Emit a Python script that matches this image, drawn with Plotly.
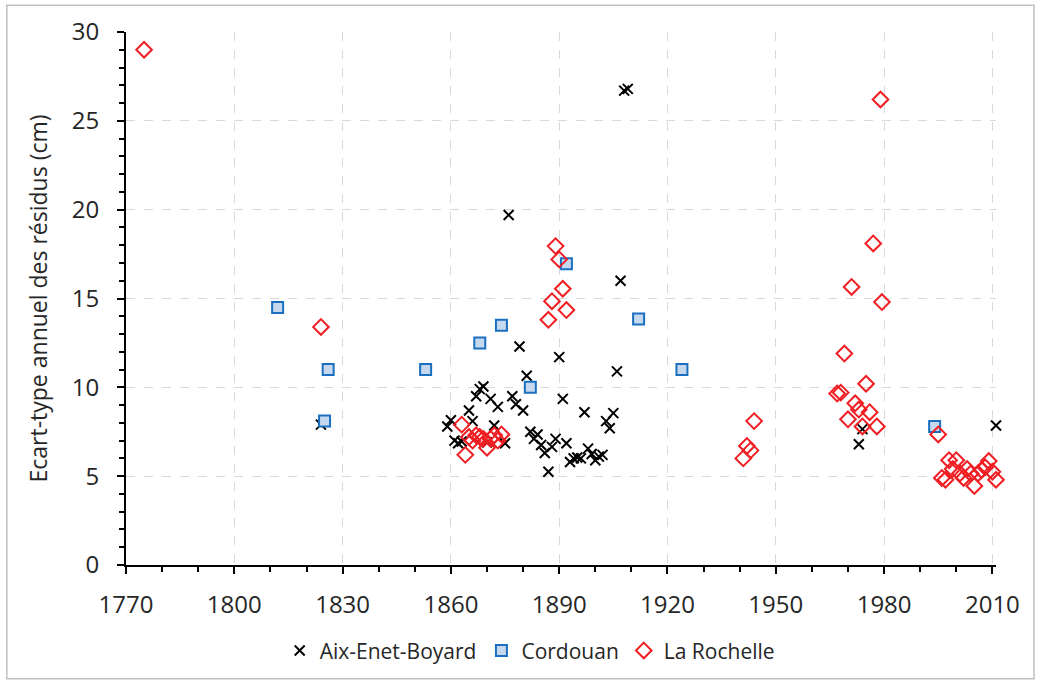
import plotly.graph_objects as go

# ---- data ----
aix_years = [1824, 1859, 1860, 1861, 1862, 1863, 1865, 1866, 1867, 1868, 1869, 1870,
             1871, 1872, 1873, 1875, 1876, 1877, 1878, 1879, 1880, 1881, 1882, 1883,
             1884, 1885, 1886, 1887, 1888, 1889, 1890, 1891, 1892, 1893, 1894, 1895,
             1896, 1897, 1898, 1899, 1900, 1901, 1902, 1903, 1904, 1905, 1906, 1907,
             1908, 1909, 1973, 1974, 2011]
aix_values = [7.9, 7.8, 8.15, 7.0, 6.85, 6.95, 8.7, 8.1, 9.5, 9.9, 10.05, 6.9,
              9.35, 7.85, 8.9, 6.85, 19.7, 9.5, 9.05, 12.3, 8.7, 10.65, 7.5, 7.1,
              7.35, 6.75, 6.3, 5.25, 6.65, 7.1, 11.7, 9.35, 6.85, 5.8, 6.0, 6.05,
              6.0, 8.6, 6.55, 6.25, 5.9, 6.1, 6.2, 8.1, 7.7, 8.55, 10.9, 16.0,
              26.7, 26.8, 6.8, 7.65, 7.85]

cord_years = [1812, 1825, 1826, 1853, 1868, 1874, 1882, 1892, 1912, 1924, 1994]
cord_values = [14.5, 8.1, 11.0, 11.0, 12.5, 13.5, 10.0, 16.95, 13.85, 11.0, 7.8]

lr_years = [1775, 1824, 1863, 1864, 1865, 1866, 1867, 1868, 1869, 1870, 1871, 1872,
            1873, 1874, 1887, 1888, 1889, 1890, 1891, 1892, 1941, 1942, 1943, 1944,
            1967, 1968, 1969, 1970, 1971, 1972, 1973, 1974, 1975, 1976, 1977, 1978,
            1979, 1979.4, 1995, 1996, 1997, 1998, 1999, 2000, 2001, 2002, 2003, 2004,
            2005, 2006, 2007, 2008, 2009, 2010, 2011]
lr_values = [29.0, 13.4, 7.9, 6.2, 7.2, 7.0, 7.3, 7.2, 7.1, 6.6, 7.1, 7.3,
             7.0, 7.35, 13.8, 14.85, 17.95, 17.2, 15.55, 14.35, 6.0, 6.7, 6.45, 8.1,
             9.65, 9.7, 11.9, 8.2, 15.65, 9.1, 8.75, 7.8, 10.2, 8.6, 18.1, 7.8,
             26.2, 14.8, 7.35, 4.9, 4.8, 5.9, 5.4, 5.9, 5.15, 4.9, 5.4, 5.15,
             4.45, 5.15, 5.35, 5.5, 5.85, 5.25, 4.8]

x_ticks = [1770, 1800, 1830, 1860, 1890, 1920, 1950, 1980, 2010]
y_ticks = [0, 5, 10, 15, 20, 25, 30]

FONT = "Open Sans"
TXT = "#262626"

fig = go.Figure()
fig.add_trace(go.Scatter(
    x=aix_years, y=aix_values, mode="markers", name="Aix-Enet-Boyard",
    marker=dict(symbol="x-thin-open", size=10, color="black",
                line=dict(color="black", width=2)),
    cliponaxis=False))
fig.add_trace(go.Scatter(
    x=cord_years, y=cord_values, mode="markers", name="Cordouan",
    marker=dict(symbol="square", size=11, color="#c6d8ee",
                line=dict(color="#1a6fc0", width=2)),
    cliponaxis=False))
fig.add_trace(go.Scatter(
    x=lr_years, y=lr_values, mode="markers", name="La Rochelle",
    marker=dict(symbol="diamond-open", size=12, color="#f01e23",
                line=dict(color="#f01e23", width=2)),
    cliponaxis=False))

fig.update_layout(
    width=1039, height=684,
    margin=dict(l=126, r=43, t=32, b=119, autoexpand=False),
    paper_bgcolor="white", plot_bgcolor="white",
    font=dict(family=FONT, color=TXT),
    showlegend=True,
    legend=dict(orientation="h", x=0.464, xanchor="center", y=-0.161,
                yanchor="middle", font=dict(size=21, family=FONT, color=TXT),
                itemwidth=30, bgcolor="rgba(0,0,0,0)"),
    xaxis=dict(range=[1770, 2011], tickmode="array", tickvals=x_ticks,
               ticktext=[str(v) for v in x_ticks],
               showline=True, linecolor="black", linewidth=2,
               ticks="outside", ticklen=7, tickwidth=2, tickcolor="black",
               minor=dict(dtick=10, tick0=1770, ticks="outside", ticklen=5,
                          tickwidth=1.5, tickcolor="black", showgrid=False),
               showgrid=True, gridcolor="#d9d9d9", griddash="dash", gridwidth=1,
               zeroline=False, ticklabelstandoff=10, automargin=False,
               tickfont=dict(size=24, family=FONT, color=TXT)),
    yaxis=dict(range=[0, 30], tickmode="array", tickvals=y_ticks,
               ticktext=[str(v) for v in y_ticks],
               showline=True, linecolor="black", linewidth=2,
               ticks="outside", ticklen=7, tickwidth=2, tickcolor="black",
               minor=dict(dtick=1, tick0=0, ticks="outside", ticklen=5,
                          tickwidth=1.5, tickcolor="black", showgrid=False),
               showgrid=True, gridcolor="#d9d9d9", griddash="dash", gridwidth=1,
               zeroline=False, ticklabelstandoff=13, automargin=False,
               tickfont=dict(size=24, family=FONT, color=TXT),
               title=dict(text="Ecart-type annuel des résidus (cm)",
                          font=dict(size=23, family=FONT, color=TXT),
                          standoff=18)),
    shapes=[dict(type="rect", xref="paper", yref="paper",
                 x0=-0.137, x1=1.0437, y0=-0.2135, y1=1.05,
                 line=dict(color="#bfbfbf", width=1.5), layer="below")],
)

fig.write_html("out.html", config={"displayModeBar": False},
               post_script="document.body.style.margin='0';document.body.style.padding='0';")
